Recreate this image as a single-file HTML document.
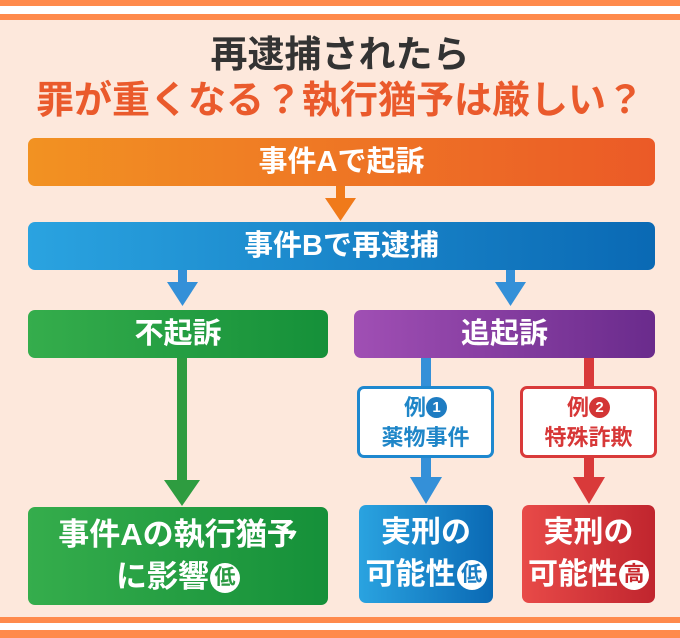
<!DOCTYPE html>
<html><head><meta charset="utf-8"><style>
*{margin:0;padding:0;box-sizing:border-box}
body{width:680px;height:638px;background:#fde8dc;position:relative;overflow:hidden;font-family:"Liberation Sans","Noto Sans CJK JP",sans-serif;font-weight:bold}
.a{position:absolute}
.box{position:absolute;border-radius:7px;color:#fff;text-align:center;white-space:nowrap}
.t{font-size:29px;line-height:48px}
.circ{display:inline-block;width:30px;height:30px;border-radius:50%;background:#fff;font-size:21px;line-height:30px;text-align:center;vertical-align:3px;margin-left:1px}
.num{display:inline-block;width:21px;height:21px;border-radius:50%;color:#fff;font-size:15px;line-height:21px;text-align:center;vertical-align:3px}
</style></head><body>
<div class="a" style="left:0;top:0;width:680px;height:6px;background:#ff8a4c"></div>
<div class="a" style="left:0;top:14px;width:680px;height:6px;background:#ff8a4c"></div>
<div class="a" style="left:0;top:6px;width:680px;height:8px;background:#fff"></div>
<div class="a" style="left:0;top:617px;width:680px;height:6px;background:#ff8a4c"></div>
<div class="a" style="left:0;top:623px;width:680px;height:7px;background:#fff"></div>
<div class="a" style="left:0;top:630px;width:680px;height:8px;background:#ff8a4c"></div>

<div class="a" style="left:0;top:32px;width:680px;text-align:center;font-size:37px;color:#333;line-height:46px">再逮捕されたら</div>
<div class="a" style="left:0;top:78px;width:680px;text-align:center;font-size:38px;color:#ea5a2c;line-height:46px;white-space:nowrap;letter-spacing:0px">罪が重くなる？執行猶予は厳しい？</div>

<div class="box t" style="left:28px;top:138px;width:627px;height:48px;background:linear-gradient(90deg,#f29222,#eb5a27)">事件Aで起訴</div>
<svg class="a" style="left:0;top:0" width="680" height="638">
<rect x="336" y="186" width="9" height="14" fill="#f07a1a"/><polygon points="325,198 356,198 340.5,221" fill="#f07a1a"/>
<rect x="178" y="270" width="9" height="14" fill="#3490d8"/><polygon points="167,282 198,282 182.5,306" fill="#3490d8"/>
<rect x="506" y="270" width="9" height="14" fill="#3490d8"/><polygon points="495,282 526,282 510.5,306" fill="#3490d8"/>
<rect x="177" y="358" width="10" height="124" fill="#2e9c40"/><polygon points="164,480 200,480 182,506" fill="#2e9c40"/>
<rect x="421" y="358" width="10" height="28" fill="#3490d8"/>
<rect x="421" y="458" width="10" height="22" fill="#3490d8"/><polygon points="410,477 442,477 426,504" fill="#3490d8"/>
<rect x="584" y="358" width="10" height="28" fill="#d93a3a"/>
<rect x="584" y="458" width="10" height="22" fill="#d93a3a"/><polygon points="573,477 605,477 589,504" fill="#d93a3a"/>
</svg>
<div class="box t" style="left:28px;top:222px;width:627px;height:48px;background:linear-gradient(90deg,#2aa3e0,#0a69b4)">事件Bで再逮捕</div>
<div class="box t" style="left:28px;top:310px;width:300px;height:48px;background:linear-gradient(90deg,#35ad4c,#159039)">不起訴</div>
<div class="box t" style="left:354px;top:310px;width:301px;height:48px;background:linear-gradient(90deg,#a04fb4,#6a2b8c)">追起訴</div>

<div class="box" style="left:357px;top:386px;width:137px;height:72px;background:#fff;border:3px solid #1e88cf;color:#1f86c8;font-size:22px;line-height:30px;padding-top:4px">例<span class="num" style="background:#1e7cc2">1</span><br>薬物事件</div>
<div class="box" style="left:520px;top:386px;width:137px;height:72px;background:#fff;border:3px solid #d93a3a;color:#d73838;font-size:22px;line-height:30px;padding-top:4px">例<span class="num" style="background:#d33535">2</span><br>特殊詐欺</div>

<div class="box" style="left:28px;top:507px;width:300px;height:98px;background:linear-gradient(90deg,#35ad4c,#159039);font-size:31px;line-height:42px;padding-top:7px">事件Aの執行猶予<br>に影響<span class="circ" style="color:#2a9a42">低</span></div>
<div class="box" style="left:359px;top:505px;width:134px;height:98px;background:linear-gradient(90deg,#2aa3e0,#0a69b4);font-size:30px;line-height:42px;padding-top:7px">実刑の<br>可能性<span class="circ" style="color:#1a7cc2">低</span></div>
<div class="box" style="left:522px;top:505px;width:133px;height:98px;background:linear-gradient(90deg,#e84a48,#c0252e);font-size:30px;line-height:42px;padding-top:7px">実刑の<br>可能性<span class="circ" style="color:#c8282e">高</span></div>
</body></html>
